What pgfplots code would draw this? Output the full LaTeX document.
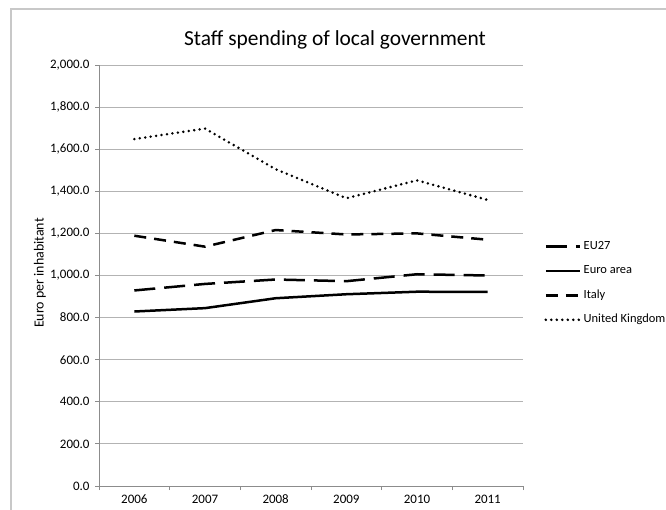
\documentclass[border=0pt]{standalone}
\usepackage{fontspec}
\setmainfont{Carlito}
\usepackage{pgfplots}
\pgfplotsset{compat=1.18}
\definecolor{gridgray}{HTML}{B3B3B3}
\definecolor{axgray}{HTML}{8C8C8C}
\definecolor{framegray}{HTML}{C8C8C8}
\begin{document}
\begin{tikzpicture}[x=1bp,y=1bp]
\useasboundingbox (0,0) rectangle (666,-510);
\draw[framegray, line width=1.5bp] (11,-510) -- (11,-9) -- (666,-9);
\node[font=\fontsize{21.5}{25}\selectfont] at (335,-40) {Staff spending of local government};
\node[font=\fontsize{14}{16}\selectfont, rotate=90] at (40,-273) {Euro per inhabitant};
\begin{axis}[
  at={(99bp,-486bp)}, anchor=south west,
  width=424bp, height=421bp, scale only axis,
  xmin=-0.5, xmax=5.5, ymin=0, ymax=2000,
  xtick={0,...,5}, xticklabels={2006,2007,2008,2009,2010,2011},
  ytick={0,200,...,2000},
  minor xtick={-0.5,0.5,...,5.5},
  axis x line*=bottom, axis y line*=left,
  axis line style={axgray, line width=1bp, -},
  ymajorgrids, grid style={gridgray, line width=1bp},
  major x tick style={draw=none},
  tick align=outside, major tick length=4bp, minor tick length=4bp,
  tick style={axgray, line width=1bp},
  /pgf/number format/.cd, fixed, fixed zerofill, precision=1, 1000 sep={,}, assume math mode=true,
  /pgfplots/.cd,
  ticklabel style={font=\fontsize{13}{15}\selectfont},
  yticklabel style={xshift=-2bp},
  xticklabel style={text height=9bp, text depth=2bp, yshift=-1bp},
  legend style={at={(1.05,0.482)}, anchor=west, draw=none, fill=none,
    font=\fontsize{12.5}{14}\selectfont, row sep=10.5bp, inner sep=0pt,
    nodes={inner sep=1bp, text height=9bp, text depth=3bp},
    /tikz/every odd column/.append style={column sep=1.5bp}},
  legend cell align=left,
  legend image code/.code={\draw[#1] (0bp,0bp) -- (34bp,0bp);},
  clip=false,
]
\addplot[black, line width=2.5bp, dash pattern=on 21bp off 9bp] coordinates {(0,929) (1,960) (2,981) (3,973) (4,1006) (5,1000)};
\addlegendentry{EU27}
\addplot[black, line width=2.5bp] coordinates {(0,829) (1,845) (2,892) (3,911) (4,923) (5,922)};
\addlegendentry{Euro area}
\addplot[black, line width=2.5bp, dash pattern=on 12bp off 8bp] coordinates {(0,1189) (1,1137) (2,1216) (3,1195) (4,1200) (5,1170)};
\addlegendentry{Italy}
\addplot[black, line width=2.8bp, line cap=round, dash pattern=on 0bp off 5.5bp] coordinates {(0,1648) (1,1698) (2,1505) (3,1367) (4,1452) (5,1359)};
\addlegendentry{United Kingdom}
\end{axis}
\end{tikzpicture}
\end{document}
